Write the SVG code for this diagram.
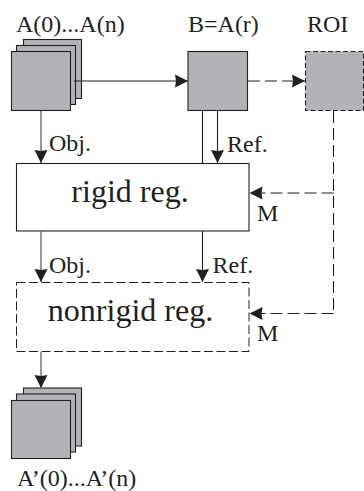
<svg xmlns="http://www.w3.org/2000/svg" width="364" height="491" viewBox="0 0 364 491">
<style>
text{font-family:"Liberation Serif","Times New Roman",serif;fill:#231f20;font-size:24px}
.b{font-size:32px}
.g{fill:#b1b3b6;stroke:#231f20;stroke-width:1.1}
.box{fill:#fff;stroke:#231f20;stroke-width:1.1}
.dbox{fill:#fff;stroke:#231f20;stroke-width:1;stroke-dasharray:9 3.500}
.c{fill:none;stroke:#231f20;stroke-width:1.1}
.m{fill:none;stroke:#6d6e71;stroke-width:1.400}
.d{fill:none;stroke:#231f20;stroke-width:1.100;stroke-dasharray:12 5}
</style>
<defs>
<marker id="a" markerUnits="userSpaceOnUse" markerWidth="14" markerHeight="14" refX="13" refY="7" orient="auto"><path d="M0 0.5L13 7L0 13.500L1 7Z" fill="#231f20"/></marker>
</defs>
<g id="stack-top">
<rect class="g" x="23.500" y="39.500" width="58" height="59"/>
<rect class="g" x="16.500" y="45.500" width="59" height="59"/>
<rect class="g" x="11.500" y="51.500" width="59" height="59"/>
<text x="16" y="32">A(0)...A(n)</text>
</g>
<g id="b">
<rect class="g" x="188" y="51.500" width="59.500" height="59"/>
<text x="188" y="32">B=A(r)</text>
</g>
<g id="roi">
<rect class="g" style="stroke-dasharray:5 2.500" x="305.500" y="51.500" width="58" height="59"/>
<text x="307" y="32">ROI</text>
</g>
<g id="rigid">
<rect class="box" x="16.500" y="163.500" width="232.500" height="67.500"/>
<text class="b" x="130" y="202" text-anchor="middle">rigid reg.</text>
</g>
<g id="nonrigid">
<rect class="dbox" x="16.500" y="282.500" width="232.500" height="69"/>
<text class="b" x="130.500" y="320.500" text-anchor="middle">nonrigid reg.</text>
</g>
<g id="stack-bottom">
<rect class="g" x="23.500" y="388" width="58" height="58"/>
<rect class="g" x="16.500" y="394" width="59" height="58"/>
<rect class="g" x="11.500" y="400.500" width="59" height="58"/>
<text x="17" y="486">A’(0)...A’(n)</text>
</g>
<g id="connectors">
<path class="c" marker-end="url(#a)" d="M74 81H188"/>
<path class="d" marker-end="url(#a)" d="M248 81H305"/>
<path class="m" marker-end="url(#a)" d="M41 111V163"/>
<path class="c" d="M202.500 111V163"/>
<path class="c" marker-end="url(#a)" d="M217.500 111V163"/>
<path class="m" marker-end="url(#a)" d="M41 231V282"/>
<path class="c" marker-end="url(#a)" d="M202.500 231V282"/>
<path class="m" marker-end="url(#a)" d="M41 352V388"/>
<path class="d" d="M333.500 111V313.500"/>
<path class="d" marker-end="url(#a)" d="M333.500 193H249.500"/>
<path class="d" marker-end="url(#a)" d="M333.500 313.500H249.500"/>
</g>
<g id="labels">
<text x="49" y="151">Obj.</text>
<text x="227" y="151.500">Ref.</text>
<text x="49" y="272.500">Obj.</text>
<text x="212.500" y="272.500">Ref.</text>
<text x="257" y="220.500">M</text>
<text x="257" y="340.500">M</text>
</g>
</svg>
